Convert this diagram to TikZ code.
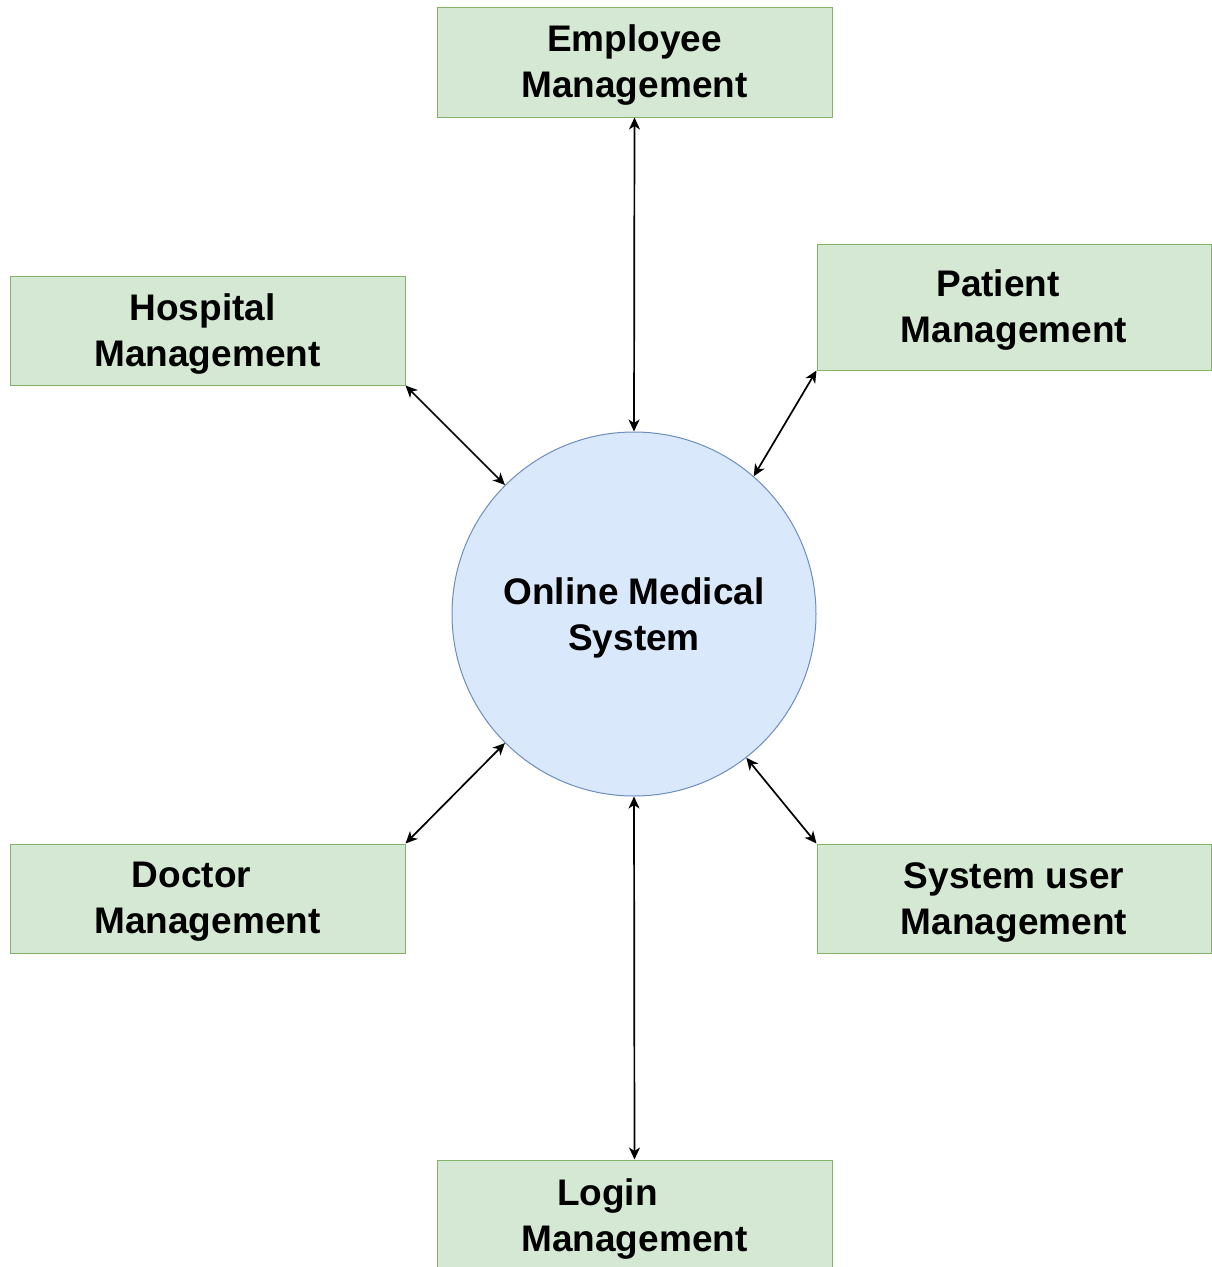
\documentclass[tikz,border=0pt]{standalone}
\usepackage{fontspec}
\setmainfont{Liberation Sans}
\usetikzlibrary{arrows.meta}
\definecolor{boxfill}{HTML}{D5E8D4}
\definecolor{boxline}{HTML}{82B366}
\definecolor{circfill}{HTML}{DAE8FC}
\definecolor{circline}{HTML}{6C8EBF}
\tikzset{
  mgmt/.style={draw=boxline, fill=boxfill, line width=1pt, rectangle, inner sep=0pt},
  txt/.style={align=center, font=\fontsize{37}{46}\selectfont\bfseries, yshift=-3.5pt},
  hub/.style={draw=circline, fill=circfill, line width=1pt, circle, minimum size=364pt, inner sep=0pt},
  link/.style={line width=1.7pt, {Stealth[length=12pt,width=11pt,inset=3.5pt]}-{Stealth[length=12pt,width=11pt,inset=3.5pt]}}
}
\begin{document}
\begin{tikzpicture}[x=1pt,y=-1pt]
\useasboundingbox (0,0) rectangle (1212,1267);
\node[mgmt, minimum width=395pt, minimum height=110pt, label={[txt]center:Employee\\Management}] (emp) at (634.5,62) {};
\node[mgmt, minimum width=395pt, minimum height=109pt, label={[txt]center:Hospital\hspace*{10pt}\\Management}] (hosp) at (207.5,330.5) {};
\node[mgmt, minimum width=394pt, minimum height=126pt, label={[txt]center:Patient\hspace*{32pt}\\Management}] (pat) at (1014,307) {};
\node[mgmt, minimum width=395pt, minimum height=109pt, label={[txt]center:Doctor\hspace*{32pt}\\Management}] (doc) at (207.5,898.5) {};
\node[mgmt, minimum width=394pt, minimum height=109pt, label={[txt]center:System user\\Management}] (sys) at (1014,898.5) {};
\node[mgmt, minimum width=395pt, minimum height=110pt, label={[txt]center:Login\hspace*{54pt}\\Management}] (login) at (634.5,1215) {};
\node[hub, label={[txt]center:Online Medical\\System}] (oms) at (634,614) {};
\draw[link] (emp.south) -- (oms.north);
\draw[link] (hosp.south east) -- (oms.135);
\draw[link] (pat.south west) -- (oms.49);
\draw[link] (doc.north east) -- (oms.225);
\draw[link] (sys.north west) -- (oms.308);
\draw[link] (login.north) -- (oms.south);
\end{tikzpicture}
\end{document}
